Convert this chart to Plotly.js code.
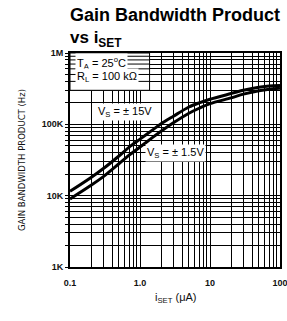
<!DOCTYPE html>
<html>
<head>
<meta charset="utf-8">
<script src="https://cdn.plot.ly/plotly-3.0.1.min.js"></script>
<style>html,body{margin:0;padding:0;background:#fff;}#chart{width:287px;height:321px;}</style>
</head>
<body>
<div id="chart"></div>
<script>
// I_SET values (µA)
const iset = [0.1, 0.2, 0.3, 0.5, 0.7, 1, 1.5, 2, 3, 5, 7, 10, 20, 30, 50, 70, 100];
// Gain bandwidth product (Hz), Vs = ±15V
const gbw15 = [11500, 18000, 24000, 36000, 48000, 62000, 83000, 102000, 130000, 175000, 200000, 225000, 270000, 300000, 330000, 345000, 350000];
// Gain bandwidth product (Hz), Vs = ±1.5V
const gbw15low = [9000, 14000, 18500, 28000, 37000, 48000, 65000, 80000, 105000, 143000, 168000, 195000, 235000, 265000, 295000, 310000, 320000];

const xTickVals = [0.1, 1, 10, 100];
const xTickText = ['0.1', '1.0', '10', '100'];
const yTickVals = [1000, 10000, 100000, 1000000];
const yTickText = ['1K', '10K', '100K', '1M'];

// legend-box region (conditions box in top-left corner)
const boxX = [0.1, 1.37];
const boxY = [300000, 1000000];
const boxGridY = [400000, 500000, 600000, 700000, 800000, 900000];

const lineStyle = {color: '#000', width: 3, shape: 'spline', smoothing: 0.8};

const traces = [
  {x: iset, y: gbw15, mode: 'lines', line: lineStyle, hoverinfo: 'skip'},
  {x: iset, y: gbw15low, mode: 'lines', line: lineStyle, hoverinfo: 'skip'}
];

const tickFont = {family: 'Liberation Sans, Arial, sans-serif', size: 9, color: '#111', weight: 'bold'};
const annFont = {family: 'Liberation Sans, Arial, sans-serif', size: 11, color: '#000'};

const shapes = [
  {type: 'rect', xref: 'x', yref: 'y', x0: boxX[0], x1: boxX[1], y0: boxY[0], y1: boxY[1],
   fillcolor: '#fff', line: {color: '#000', width: 1}, layer: 'between'}
].concat(boxGridY.map(v => ({type: 'line', xref: 'x', yref: 'y', x0: boxX[0], x1: boxX[1], y0: v, y1: v,
   line: {color: '#000', width: 1}, layer: 'between'})));

const layout = {
  width: 287, height: 321,
  margin: {l: 70, r: 7, t: 53, b: 54},
  paper_bgcolor: '#fff', plot_bgcolor: '#fff',
  showlegend: false,
  shapes: shapes,
  xaxis: {
    type: 'log', range: [-1, 2],
    tickmode: 'array', tickvals: xTickVals, ticktext: xTickText,
    tickfont: tickFont, ticks: '', ticklen: 0, ticklabelstandoff: 6, ticklabeloverflow: 'allow',
    showgrid: true, gridcolor: '#000', gridwidth: 1,
    minor: {dtick: 'D1', showgrid: true, gridcolor: '#000', gridwidth: 1, ticks: ''},
    showline: true, mirror: true, linecolor: '#000', linewidth: 2,
    zeroline: false, fixedrange: true
  },
  yaxis: {
    type: 'log', range: [3, 6],
    tickmode: 'array', tickvals: yTickVals, ticktext: yTickText,
    tickfont: tickFont, ticks: 'outside', ticklen: 3, tickcolor: '#000', ticklabeloverflow: 'allow',
    showgrid: true, gridcolor: '#000', gridwidth: 1,
    minor: {dtick: 'D1', showgrid: true, gridcolor: '#000', gridwidth: 1, ticks: 'outside', ticklen: 3, tickcolor: '#000'},
    showline: true, mirror: true, linecolor: '#000', linewidth: 2,
    zeroline: false, fixedrange: true
  },
  annotations: [
    {text: '<b>Gain Bandwidth Product</b>', xref: 'paper', yref: 'paper', x: -0.01, y: 1.178, xanchor: 'left', yanchor: 'middle', showarrow: false,
     font: {family: 'Liberation Sans, Arial, sans-serif', size: 18, color: '#000'}},
    {text: '<b>vs i<sub>SET</sub></b>', xref: 'paper', yref: 'paper', x: -0.01, y: 1.065, xanchor: 'left', yanchor: 'middle', showarrow: false,
     font: {family: 'Liberation Sans, Arial, sans-serif', size: 17, color: '#000'}},
    {text: 'T<sub>A</sub> = 25<sup>o</sup>C', xref: 'paper', yref: 'paper', x: 0.024, y: 0.953, xanchor: 'left', yanchor: 'middle', showarrow: false,
     bgcolor: '#fff', font: annFont},
    {text: 'R<sub>L</sub> = 100 kΩ', xref: 'paper', yref: 'paper', x: 0.024, y: 0.888, xanchor: 'left', yanchor: 'middle', showarrow: false,
     bgcolor: '#fff', font: annFont},
    {text: 'V<sub>S</sub> = ± 15V', xref: 'paper', yref: 'paper', x: 0.262, y: 0.724, xanchor: 'center', yanchor: 'middle', showarrow: false,
     bgcolor: '#fff', font: annFont},
    {text: 'V<sub>S</sub> = ± 1.5V', xref: 'paper', yref: 'paper', x: 0.5, y: 0.533, xanchor: 'center', yanchor: 'middle', showarrow: false,
     bgcolor: '#fff', font: annFont},
    {text: 'GAIN BANDWIDTH PRODUCT (Hz)', xref: 'paper', yref: 'paper', x: -0.228, y: 0.5, xanchor: 'center', yanchor: 'middle', showarrow: false,
     textangle: -90, font: {family: 'DejaVu Sans, sans-serif', size: 8.5, color: '#111'}},
    {text: 'i<sub>SET</sub> (μA)', xref: 'paper', yref: 'paper', x: 0.5, y: -0.145, xanchor: 'center', yanchor: 'middle', showarrow: false,
     font: {family: 'Liberation Sans, Arial, sans-serif', size: 11, color: '#111'}}
  ]
};

Plotly.newPlot('chart', traces, layout, {staticPlot: true, displayModeBar: false});
</script>
</body>
</html>
